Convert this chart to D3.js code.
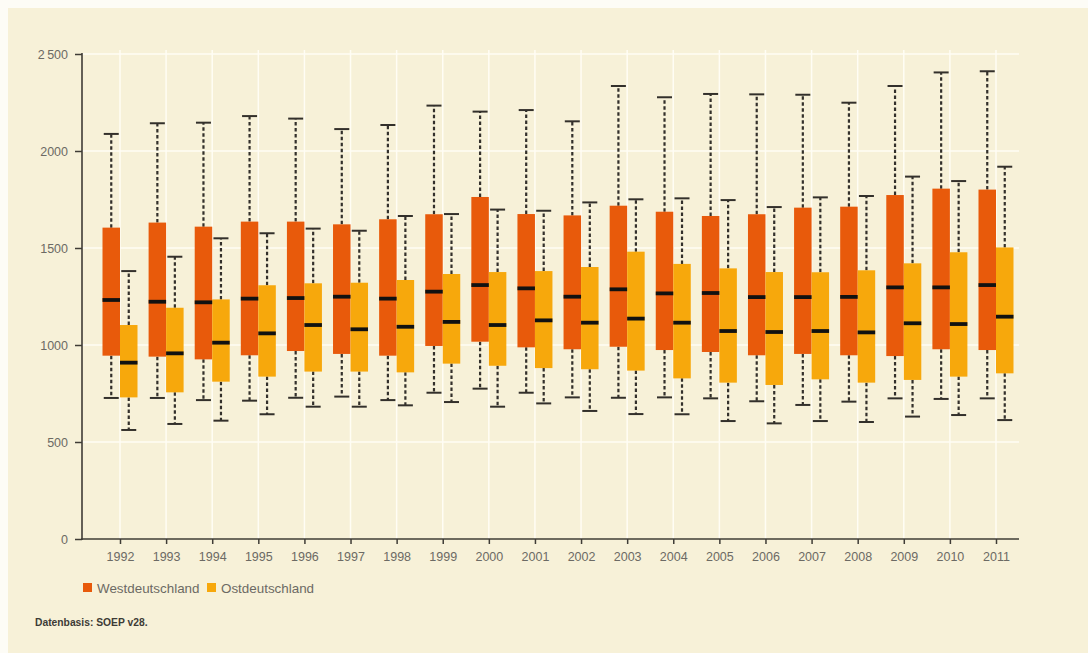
<!DOCTYPE html>
<html>
<head>
<meta charset="utf-8">
<script src="https://cdn.jsdelivr.net/npm/d3@7"></script>
<style>
  html, body { margin: 0; padding: 0; background: #fdfcf6; }
  svg { display: block; }
  text { font-family: "Liberation Sans", Arial, Helvetica, sans-serif; }
</style>
</head>
<body>
<svg id="chart" width="1088" height="653"></svg>
<script>
// Monthly net income distribution per year (box plots), West vs. East Germany
const years = [1992, 1993, 1994, 1995, 1996, 1997, 1998, 1999, 2000, 2001,
               2002, 2003, 2004, 2005, 2006, 2007, 2008, 2009, 2010, 2011];

const westLow    = [727, 727, 716, 713, 728, 734, 716, 754, 775, 754, 730, 728, 730, 725, 710, 691, 708, 725, 722, 725];
const westQ1     = [945, 940, 926, 947, 969, 954, 945, 995, 1017, 988, 978, 991, 974, 964, 947, 954, 947, 943, 978, 974];
const westMedian = [1232, 1223, 1220, 1239, 1242, 1249, 1239, 1275, 1309, 1292, 1249, 1287, 1266, 1268, 1247, 1247, 1248, 1297, 1297, 1309];
const westQ3     = [1605, 1631, 1610, 1636, 1636, 1622, 1648, 1674, 1763, 1675, 1668, 1718, 1687, 1665, 1674, 1708, 1713, 1773, 1806, 1801];
const westHigh   = [2088, 2143, 2146, 2180, 2167, 2113, 2134, 2234, 2203, 2211, 2153, 2335, 2277, 2294, 2292, 2290, 2249, 2335, 2405, 2411];

const eastLow    = [562, 593, 610, 643, 682, 682, 689, 706, 682, 699, 660, 644, 643, 608, 596, 608, 603, 631, 639, 613];
const eastQ1     = [730, 756, 811, 837, 863, 863, 859, 904, 893, 881, 875, 868, 828, 806, 794, 823, 806, 820, 837, 854];
const eastMedian = [909, 957, 1012, 1060, 1103, 1081, 1094, 1119, 1103, 1127, 1115, 1136, 1115, 1072, 1067, 1072, 1065, 1112, 1108, 1146];
const eastQ3     = [1103, 1192, 1235, 1308, 1318, 1321, 1335, 1366, 1376, 1381, 1402, 1481, 1418, 1395, 1376, 1375, 1385, 1421, 1478, 1503];
const eastHigh   = [1381, 1455, 1550, 1576, 1600, 1589, 1665, 1675, 1698, 1692, 1735, 1751, 1756, 1747, 1711, 1761, 1768, 1868, 1845, 1919];

const seriesNames = ["Westdeutschland", "Ostdeutschland"];
const seriesColors = ["#e85a0b", "#f7a80c"];

const yTicks = [0, 500, 1000, 1500, 2000, 2500];
const yTickLabels = ["0", "500", "1000", "1500", "2000", "2\u2009500"];

const sourceNote = "Datenbasis: SOEP v28.";

// ---- layout ----
const svg = d3.select("#chart");
const W = 1088, H = 653;
const axisX = 82, plotRight = 1019;
const plotTop = 54, plotBottom = 539;

svg.append("rect").attr("width", W).attr("height", H).attr("fill", "#fdfcf6");
svg.append("rect").attr("x", 8).attr("y", 8).attr("width", W - 8).attr("height", H - 8).attr("fill", "#f7f1d8");

const y = d3.scaleLinear().domain([0, 2500]).range([plotBottom, plotTop]);
const x = d3.scalePoint().domain(years).range([120, 996]);
const inner = d3.scaleBand().domain(seriesNames).range([-17.5, 17.5]).padding(0);

// grid
const grid = svg.append("g").attr("stroke", "#fffdf4").attr("stroke-width", 1.5);
grid.selectAll("line.h").data(yTicks.slice(1)).join("line")
  .attr("x1", axisX).attr("x2", plotRight)
  .attr("y1", d => y(d)).attr("y2", d => y(d));
grid.selectAll("line.v").data(years).join("line")
  .attr("x1", d => x(d)).attr("x2", d => x(d))
  .attr("y1", plotTop - 4).attr("y2", plotBottom);

// box plot records
const stats = [
  { low: westLow, q1: westQ1, med: westMedian, q3: westQ3, high: westHigh },
  { low: eastLow, q1: eastQ1, med: eastMedian, q3: eastQ3, high: eastHigh }
];
const boxes = [];
years.forEach((yr, i) => {
  seriesNames.forEach((name, s) => {
    boxes.push({
      year: yr, series: name, color: seriesColors[s],
      low: stats[s].low[i], q1: stats[s].q1[i], med: stats[s].med[i],
      q3: stats[s].q3[i], high: stats[s].high[i]
    });
  });
});

const bw = inner.bandwidth();
const g = svg.append("g");
const bx = d => x(d.year) + inner(d.series);
const cx = d => bx(d) + bw / 2;
const ink = "#33302b";

// whiskers (dashed)
g.selectAll("line.wu").data(boxes).join("line")
  .attr("x1", cx).attr("x2", cx)
  .attr("y1", d => y(d.q3)).attr("y2", d => y(d.high))
  .attr("stroke", ink).attr("stroke-width", 2.2).attr("stroke-dasharray", "3.5,2.5");
g.selectAll("line.wl").data(boxes).join("line")
  .attr("x1", cx).attr("x2", cx)
  .attr("y1", d => y(d.q1)).attr("y2", d => y(d.low))
  .attr("stroke", ink).attr("stroke-width", 2.2).attr("stroke-dasharray", "3.5,2.5");

// caps
["high", "low"].forEach(k => {
  g.selectAll("line.cap-" + k).data(boxes).join("line")
    .attr("x1", d => cx(d) - 7.5).attr("x2", d => cx(d) + 7.5)
    .attr("y1", d => y(d[k])).attr("y2", d => y(d[k]))
    .attr("stroke", ink).attr("stroke-width", 2);
});

// boxes
g.selectAll("rect.box").data(boxes).join("rect")
  .attr("x", bx).attr("width", bw)
  .attr("y", d => y(d.q3)).attr("height", d => y(d.q1) - y(d.q3))
  .attr("fill", d => d.color);

// medians
g.selectAll("line.med").data(boxes).join("line")
  .attr("x1", bx).attr("x2", d => bx(d) + bw)
  .attr("y1", d => y(d.med)).attr("y2", d => y(d.med))
  .attr("stroke", "#111").attr("stroke-width", 3.8);

// y axis
const yAxis = svg.append("g").attr("transform", `translate(${axisX},0)`)
  .call(d3.axisLeft(y).tickValues(yTicks).tickFormat((d, i) => yTickLabels[i]).tickSize(7).tickPadding(7).tickSizeOuter(0));
yAxis.select(".domain").remove();
yAxis.selectAll("line").attr("stroke", "#3f3c36").attr("stroke-width", 1.5);
yAxis.selectAll("text").attr("fill", "#6c6a64").attr("font-size", 12.5);
svg.append("line").attr("x1", axisX).attr("x2", axisX).attr("y1", plotTop - 1).attr("y2", plotBottom + 1)
  .attr("stroke", "#3f3c36").attr("stroke-width", 1.6);

// x axis
const xAxis = svg.append("g").attr("transform", `translate(0,${plotBottom})`)
  .call(d3.axisBottom(x).tickSize(5).tickPadding(8).tickSizeOuter(0));
xAxis.select(".domain").remove();
xAxis.selectAll("line").attr("stroke", "#3f3c36").attr("stroke-width", 1.5);
xAxis.selectAll("text").attr("fill", "#6c6a64").attr("font-size", 12.5);
svg.append("line").attr("x1", axisX - 1).attr("x2", plotRight).attr("y1", plotBottom).attr("y2", plotBottom)
  .attr("stroke", "#3f3c36").attr("stroke-width", 1.6);

// legend
const legendX = [83, 207];
const legend = svg.append("g");
seriesNames.forEach((name, i) => {
  legend.append("rect").attr("x", legendX[i]).attr("y", 583).attr("width", 9).attr("height", 9)
    .attr("fill", seriesColors[i]);
  legend.append("text").attr("x", legendX[i] + 14).attr("y", 592.5)
    .attr("font-size", 13.4).attr("fill", "#6c6a64").text(name);
});

// source note
svg.append("text").attr("x", 35).attr("y", 625.5)
  .attr("font-size", 10.3).attr("font-weight", "bold").attr("fill", "#3d3b36").text(sourceNote);
</script>
</body>
</html>
